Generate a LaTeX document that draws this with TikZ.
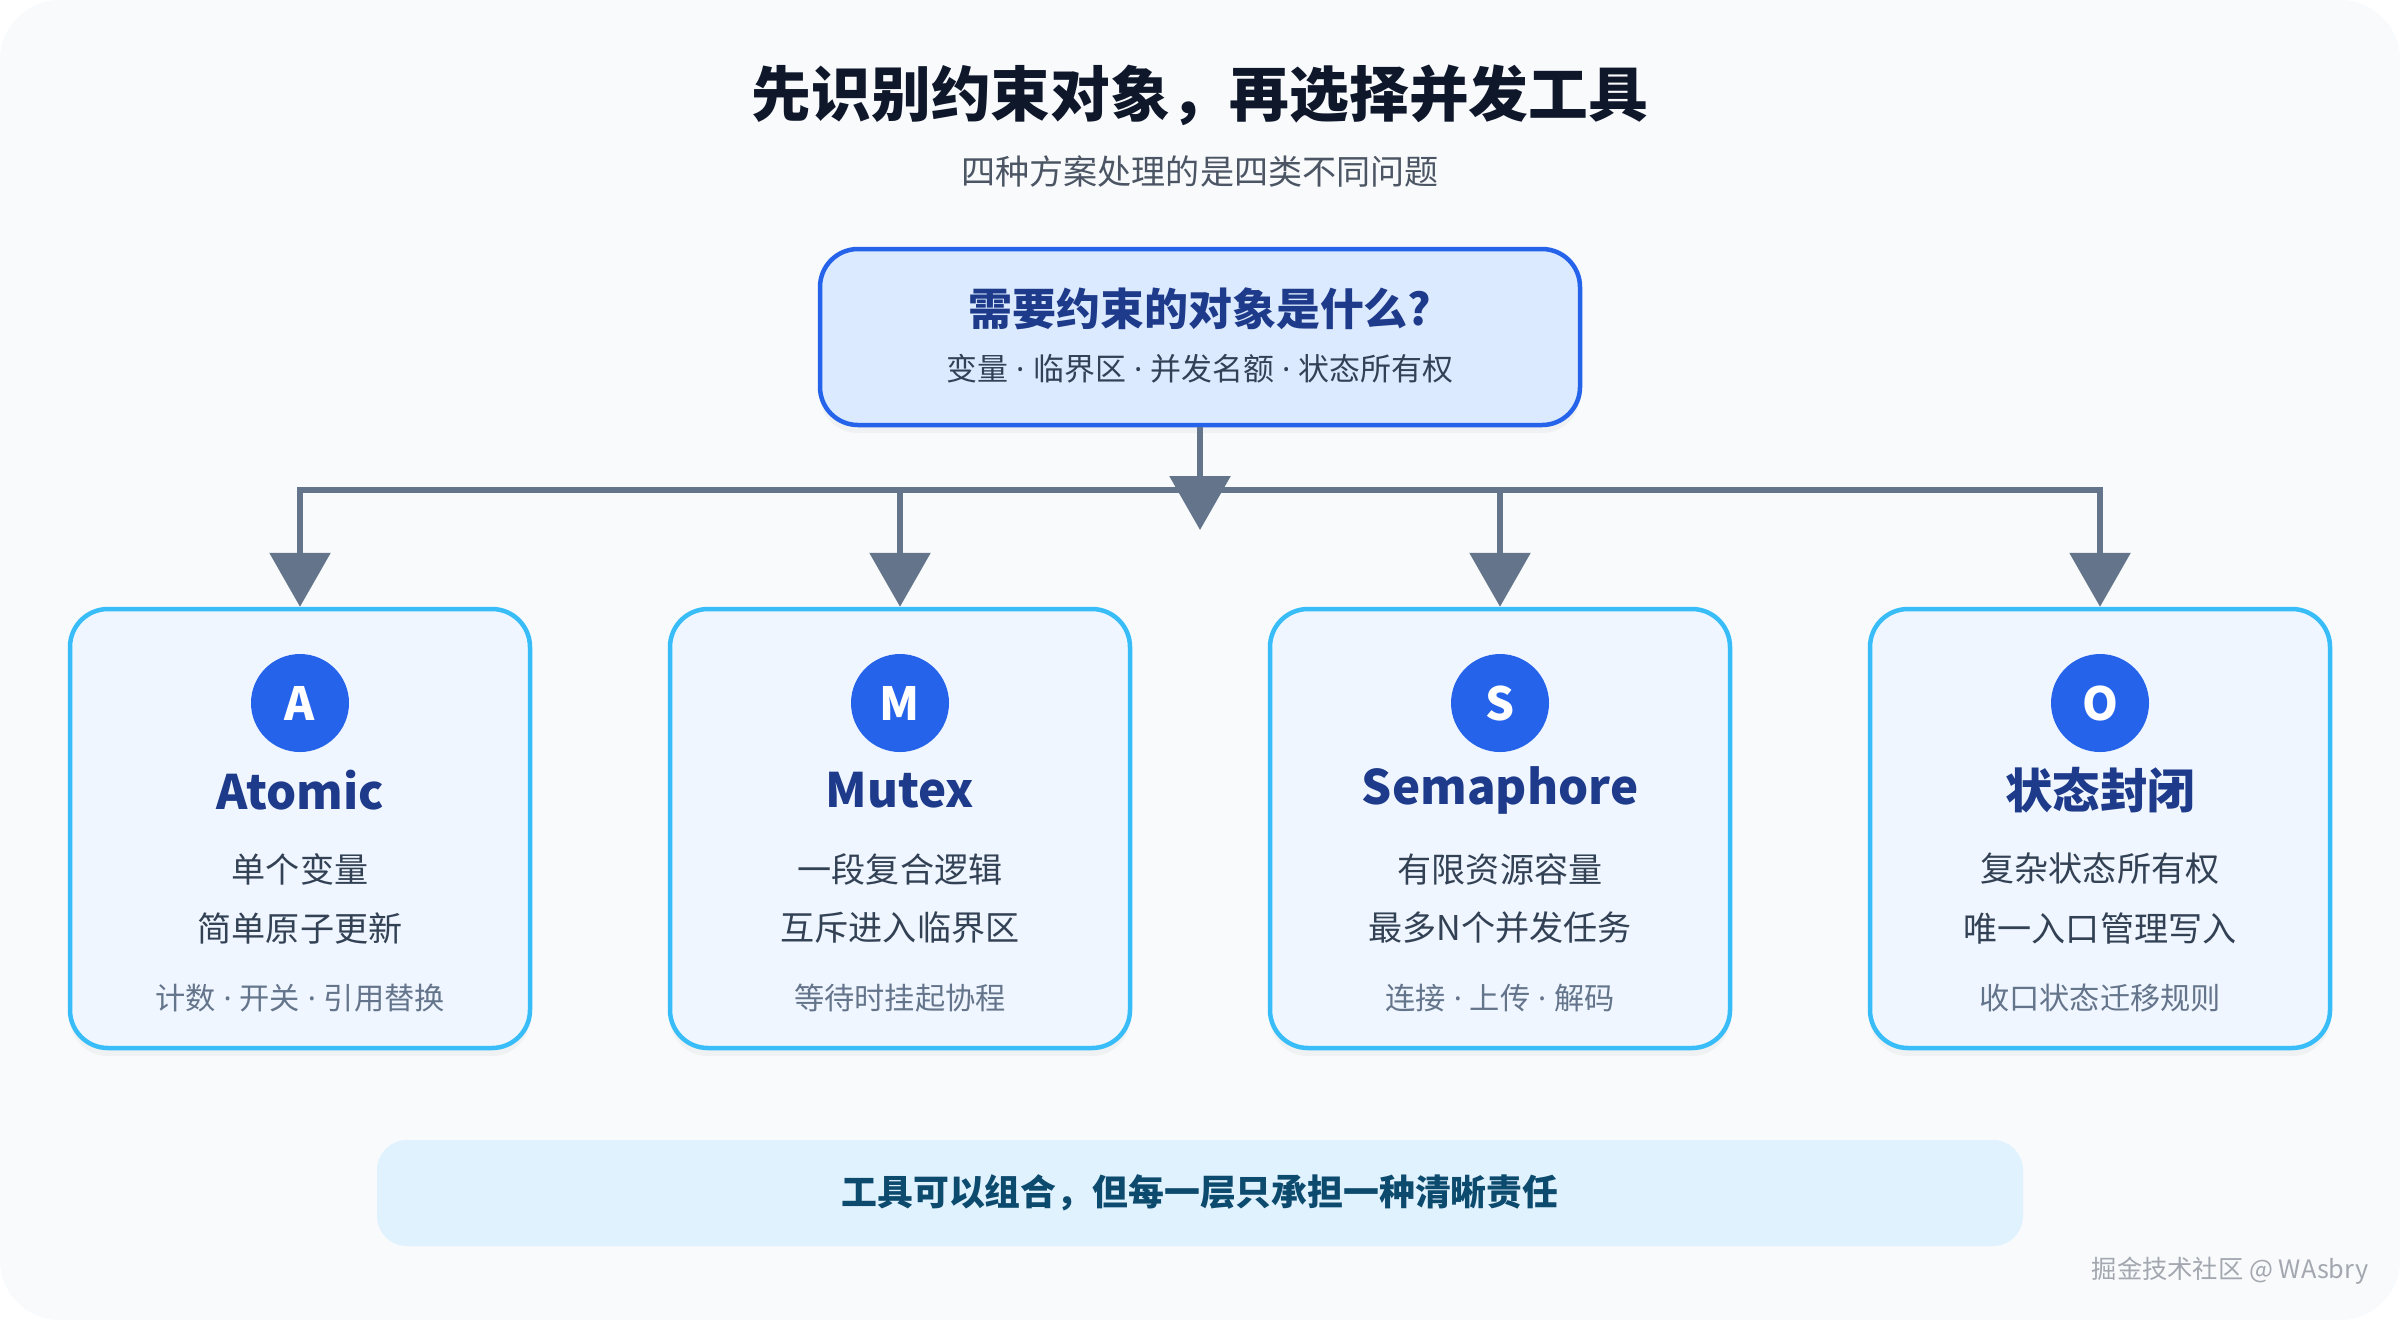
\documentclass[tikz,border=0pt]{standalone}
\usepackage{fontspec}
\setmainfont{Noto Sans CJK SC}
\newfontfamily\latinfont{Noto Sans}
\newcommand{\sepdot}{{\latinfont\ ·\ }}
\usetikzlibrary{arrows.meta,positioning,shadows}

\definecolor{pagebg}{HTML}{F8FAFC}
\definecolor{ink}{HTML}{0F172A}
\definecolor{subgray}{HTML}{4B5563}
\definecolor{slate}{HTML}{64748B}
\definecolor{badgeblue}{HTML}{2563EB}
\definecolor{qfill}{HTML}{DBEAFE}
\definecolor{navy}{HTML}{1E3A8A}
\definecolor{skyline}{HTML}{38BDF8}
\definecolor{cardfill}{HTML}{EFF6FF}
\definecolor{bodytext}{HTML}{334155}
\definecolor{bandfill}{HTML}{E0F2FE}
\definecolor{bandtext}{HTML}{0C4A6E}
\definecolor{markgray}{HTML}{A3A8B0}

\tikzset{
  card/.style={draw=skyline, line width=0.45mm, fill=cardfill, rounded corners=3.8mm,
    minimum width=46mm, minimum height=43.9mm,
    drop shadow={opacity=0.07, shadow xshift=0mm, shadow yshift=-0.8mm}},
  badge/.style={circle, fill=badgeblue, minimum size=9.8mm, inner sep=0pt, text=white,
    font=\fontsize{13pt}{15pt}\selectfont\bfseries},
  cardhead/.style={text=navy, font=\fontsize{13.5pt}{16pt}\selectfont\bfseries},
  cardtext/.style={text=bodytext, font=\fontsize{9.7pt}{12pt}\selectfont},
  cardtag/.style={text=slate, font=\fontsize{8.6pt}{10pt}\selectfont},
  link/.style={draw=slate, line width=0.6mm},
  linkarrow/.style={link, -{Triangle[width=6mm,length=5.4mm]}}
}

\begin{document}
\begin{tikzpicture}[x=0.1mm, y=-0.1mm]
  \useasboundingbox (0,0) rectangle (2400,1320);
  \fill[white] (0,0) rectangle (2400,1320);
  \fill[pagebg, rounded corners=6mm] (0,0) rectangle (2400,1320);

  % heading
  \node[text=ink, font=\fontsize{17pt}{20pt}\selectfont\bfseries] (title) at (1200,95) {先识别约束对象，再选择并发工具};
  \node[text=subgray, font=\fontsize{9.7pt}{12pt}\selectfont] (subtitle) at (1200,171) {四种方案处理的是四类不同问题};

  % question box
  \node[draw=badgeblue, line width=0.45mm, fill=qfill, rounded corners=3.8mm,
    minimum width=76mm, minimum height=17.6mm,
    drop shadow={opacity=0.07, shadow xshift=0mm, shadow yshift=-0.8mm}] (q) at (1200,337) {};
  \node[text=navy, font=\fontsize{12.5pt}{15pt}\selectfont\bfseries] (qhead) at (1200,309) {需要约束的对象是什么?};
  \node[text=bodytext, font=\fontsize{8.8pt}{11pt}\selectfont] (qtext) at (1200,369) {变量\sepdot 临界区\sepdot 并发名额\sepdot 状态所有权};

  % cards
  \node[card] (a) at (300,828.5) {};
  \node[badge] (abadge) at (300,703) {A};
  \node[cardhead] (ahead) at (300,790) {Atomic};
  \node[cardtext] (aline1) at (300,869) {单个变量};
  \node[cardtext] (aline2) at (300,928) {简单原子更新};
  \node[cardtag] (atag) at (300,998) {计数\sepdot 开关\sepdot 引用替换};

  \node[card] (m) at (900,828.5) {};
  \node[badge] (mbadge) at (900,703) {M};
  \node[cardhead] (mhead) at (900,790) {Mutex};
  \node[cardtext] (mline1) at (900,869) {一段复合逻辑};
  \node[cardtext] (mline2) at (900,928) {互斥进入临界区};
  \node[cardtag] (mtag) at (900,998) {等待时挂起协程};

  \node[card] (s) at (1500,828.5) {};
  \node[badge] (sbadge) at (1500,703) {S};
  \node[cardhead] (shead) at (1500,790) {Semaphore};
  \node[cardtext] (sline1) at (1500,869) {有限资源容量};
  \node[cardtext] (sline2) at (1500,928) {最多N个并发任务};
  \node[cardtag] (stag) at (1500,998) {连接\sepdot 上传\sepdot 解码};

  \node[card] (o) at (2100,828.5) {};
  \node[badge] (obadge) at (2100,703) {O};
  \node[cardhead] (ohead) at (2100,790) {状态封闭};
  \node[cardtext] (oline1) at (2100,869) {复杂状态所有权};
  \node[cardtext] (oline2) at (2100,928) {唯一入口管理写入};
  \node[cardtag] (otag) at (2100,998) {收口状态迁移规则};

  % connectors
  \coordinate (bus) at (1200,490);
  \coordinate (hub) at (1200,530);
  \draw[link, line cap=rect] (bus -| a.north) -- (bus -| o.north);
  \draw[linkarrow] (bus -| a.north) -- (a.north);
  \draw[linkarrow] (bus -| m.north) -- (m.north);
  \draw[linkarrow] (bus -| s.north) -- (s.north);
  \draw[linkarrow] (bus -| o.north) -- (o.north);
  \draw[linkarrow] (q.south) -- (hub);

  % footer band
  \node[fill=bandfill, rounded corners=3mm, minimum width=164.6mm, minimum height=10.6mm,
    text=bandtext, font=\fontsize{10.2pt}{12pt}\selectfont\bfseries] (band) at (1200,1193)
    {工具可以组合，但每一层只承担一种清晰责任};

  \node[text=markgray, font=\fontsize{7.2pt}{9pt}\selectfont] (mark) at (2230,1271) {掘金技术社区 @ WAsbry};
\end{tikzpicture}
\end{document}
